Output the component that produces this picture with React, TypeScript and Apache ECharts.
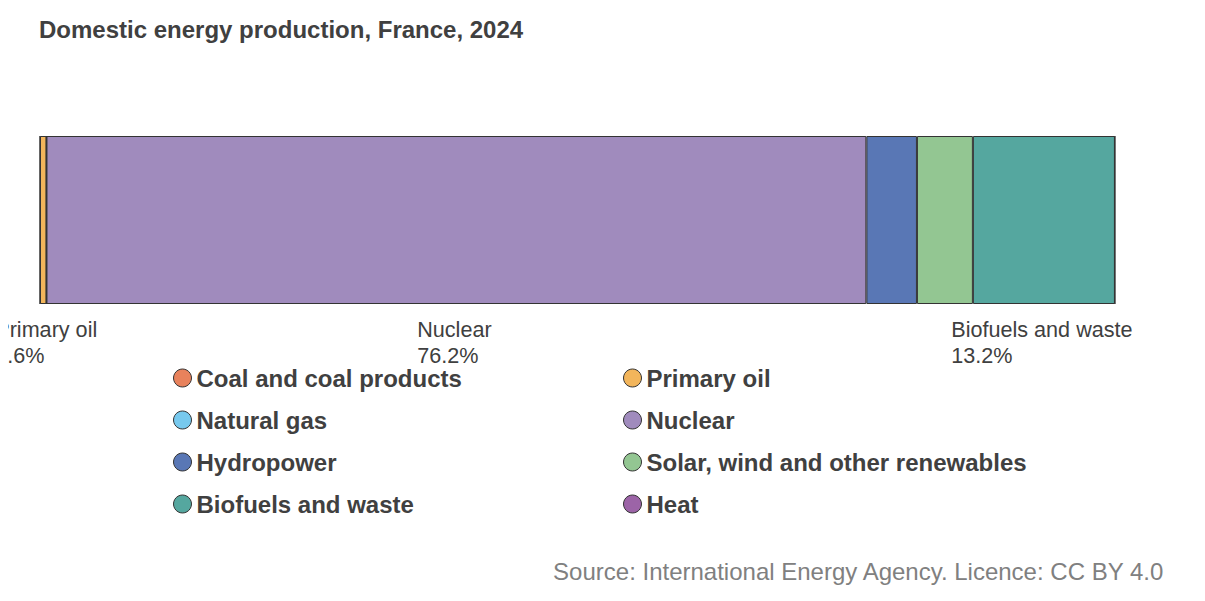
import React, { useEffect, useRef } from "react";
import * as echarts from "echarts";

const titleText = "Domestic energy production, France, 2024";
const sourceText = "Source: International Energy Agency. Licence: CC BY 4.0";
const categories = ["France"];
const seriesNames = [
  "Coal and coal products",
  "Primary oil",
  "Natural gas",
  "Nuclear",
  "Hydropower",
  "Solar, wind and other renewables",
  "Biofuels and waste",
  "Heat",
];
const shares = [0, 0.6, 0, 76.2, 4.7, 5.2, 13.2, 0];
const colors = ["#e8825c", "#f2b55b", "#77c9ee", "#a08bbd", "#5977b5", "#93c692", "#55a79f", "#9c64a7"];
const labelled = [false, true, false, true, false, false, true, false];
const leftLegend = ["Coal and coal products", "Natural gas", "Hydropower", "Biofuels and waste"];
const rightLegend = ["Primary oil", "Nuclear", "Solar, wind and other renewables", "Heat"];

const FONT = "'Liberation Sans', Arial, sans-serif";

export default function App() {
  const ref = useRef<HTMLDivElement>(null);
  useEffect(() => {
    if (!ref.current) return;
    const chart = echarts.init(ref.current, undefined, { renderer: "svg" });
    const legendBase = {
      orient: "vertical" as const,
      top: 351,
      icon: "circle",
      itemWidth: 18,
      itemHeight: 18,
      itemGap: 14,
      itemStyle: { borderColor: "#333", borderWidth: 1 },
      textStyle: { fontFamily: FONT, fontSize: 24, fontWeight: "bold" as const, color: "#404040", lineHeight: 28 },
      selectedMode: false,
    };
    chart.setOption({
      animation: false,
      textStyle: { fontFamily: FONT },
      title: [
        {
          text: titleText,
          left: 34,
          top: 4,
          textStyle: { fontFamily: FONT, fontSize: 24, fontWeight: "bold", color: "#404040" },
        },
        {
          text: sourceText,
          right: 27,
          top: 546,
          textStyle: { fontFamily: FONT, fontSize: 24, fontWeight: "normal", color: "#808080" },
        },
      ],
      legend: [
        { ...legendBase, left: 168, data: leftLegend },
        { ...legendBase, left: 618, data: rightLegend },
      ],
      grid: { left: 40, right: 81, top: 128, height: 168 },
      xAxis: { type: "value", min: 0, max: 100, show: false },
      yAxis: { type: "category", data: categories, show: false },
      series: seriesNames.map((name, i) => ({
        name,
        type: "bar",
        stack: "total",
        barWidth: "100%",
        data: [shares[i]],
        itemStyle: { color: colors[i], borderColor: "#333", borderWidth: 1 },
        label: {
          show: labelled[i],
          position: "bottom",
          distance: 12,
          offset: [i === 1 ? 3 : -2, 0],
          formatter: () => `{l|${name}}\n{l|${shares[i].toFixed(1)}%}`,
          rich: {
            l: { align: "left", fontFamily: FONT, fontSize: 21.6, color: "#404040", lineHeight: 26 },
          },
        },
      })),
    });
    return () => chart.dispose();
  }, []);
  return <div ref={ref} style={{ marginLeft: -8, width: 1197, height: 585 }} />;
}
